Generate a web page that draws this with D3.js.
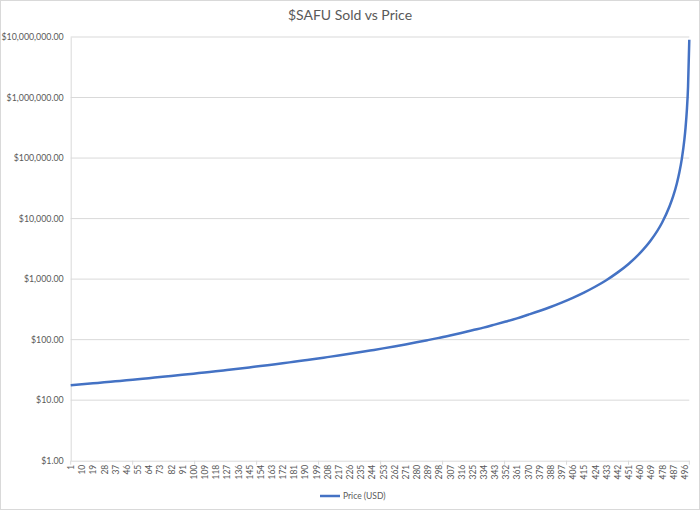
<!DOCTYPE html>
<html>
<head>
<meta charset="utf-8">
<script src="https://cdn.jsdelivr.net/npm/d3@7"></script>
<style>
  body { margin: 0; background: #fff; }
  #chart { width: 700px; height: 510px; }
  text { font-family: Lato, "Open Sans", sans-serif; fill: #595959; }
</style>
</head>
<body>
<div id="chart"></div>
<script>
// Units sold (x categories run 1..500)
var soldCount = 500;
var tickLabels = [1, 10, 19, 28, 37, 46, 55, 64, 73, 82, 91, 100, 109, 118, 127, 136, 145, 154, 163, 172,
  181, 190, 199, 208, 217, 226, 235, 244, 253, 262, 271, 280, 289, 298, 307, 316, 325, 334, 343, 352,
  361, 370, 379, 388, 397, 406, 415, 424, 433, 442, 451, 460, 469, 478, 487, 496];
var yTicks = [1, 10, 100, 1000, 10000, 100000, 1000000, 10000000];

// price at these sold counts
var sold = [1, 10, 19, 28, 37, 46, 55, 64, 73, 82, 91, 100, 109, 118, 127, 136, 145, 154, 163, 172,
  181, 190, 199, 208, 217, 226, 235, 244, 253, 262, 271, 280, 289, 298, 307, 316, 325, 334, 343, 352,
  361, 370, 379, 388, 397, 406, 415, 424, 433, 442, 451, 460, 469, 478, 484, 487, 490, 492, 494, 496,
  497, 498, 499, 500];
var price = [17.6, 18.3, 19.0, 19.7, 20.5, 21.3, 22.2, 23.1, 24.1, 25.1, 26.2, 27.4, 28.7, 30.0, 31.5, 33.1, 34.8, 36.6, 38.6, 40.7,
  43.1, 45.6, 48.3, 51.4, 54.7, 58.3, 62.3, 66.8, 71.7, 77.2, 83.4, 90.3, 98.2, 107, 117, 129, 143, 158, 177, 199,
  225, 258, 297, 346, 409, 491, 599, 748, 960, 1280, 1780, 2660, 4380, 8540, 15800, 23400, 38400, 58100, 98000, 199000,
  321000, 604000, 1520000, 8980000];

var width = 700, height = 510;
var margin = { top: 37, right: 10.7, bottom: 49.3, left: 70.7 };

var svg = d3.select("#chart")
  .append("svg")
  .attr("width", width)
  .attr("height", height);

// chart border
svg.append("rect")
  .attr("x", 0.5).attr("y", 0.5)
  .attr("width", width - 1).attr("height", height - 1)
  .attr("fill", "#fff")
  .attr("stroke", "#d9d9d9");

var categories = d3.range(1, soldCount + 1);

var xScale = d3.scalePoint()
  .domain(categories)
  .range([margin.left, width - margin.right]);

var yScale = d3.scaleLog()
  .domain([1, 10000000])
  .range([height - margin.bottom, margin.top]);

var fmt = d3.format(",.2f");

// gridlines
svg.append("g")
  .selectAll("line")
  .data(yTicks.slice(1))
  .enter()
  .append("line")
  .attr("x1", margin.left)
  .attr("x2", width - margin.right)
  .attr("y1", function(d) { return yScale(d); })
  .attr("y2", function(d) { return yScale(d); })
  .attr("stroke", "#d9d9d9")
  .attr("stroke-width", 1);

// y axis
var yAxis = d3.axisLeft(yScale)
  .tickValues(yTicks)
  .tickSize(0)
  .tickPadding(7)
  .tickFormat(function(d) { return "$" + fmt(d); });

var yg = svg.append("g")
  .attr("transform", "translate(" + margin.left + ",0)")
  .call(yAxis);
yg.select(".domain").attr("stroke", "#d9d9d9");
yg.selectAll("text").style("font-size", "8.8px").style("fill", "#595959");

// x axis
var xAxis = d3.axisBottom(xScale)
  .tickValues(tickLabels)
  .tickSize(0)
  .tickPadding(0);

var xg = svg.append("g")
  .attr("transform", "translate(0," + yScale(1) + ")")
  .call(xAxis);
xg.select(".domain").attr("stroke", "#d9d9d9");
xg.selectAll("text")
  .style("font-size", "8.5px")
  .style("fill", "#595959")
  .attr("text-anchor", "end")
  .attr("dy", "0.35em")
  .attr("y", 0)
  .attr("x", -4)
  .attr("transform", "rotate(-90)");

// x tick marks every 50 categories
var markCats = [1, 51, 101, 151, 201, 251, 301, 351, 401, 451, 500];
xg.selectAll(".mark")
  .data(markCats)
  .enter()
  .append("line")
  .attr("class", "mark")
  .attr("x1", function(d) { return xScale(d); })
  .attr("x2", function(d) { return xScale(d); })
  .attr("y1", 0)
  .attr("y2", 4)
  .attr("stroke", "#d9d9d9");

// price line
var line = d3.line()
  .x(function(d, i) { return xScale(sold[i]); })
  .y(function(d) { return yScale(d); })
  .curve(d3.curveMonotoneX);

svg.append("path")
  .datum(price)
  .attr("d", line)
  .attr("fill", "none")
  .attr("stroke", "#4472C4")
  .attr("stroke-width", 2.5)
  .attr("stroke-linejoin", "round");

// title
svg.append("text")
  .attr("x", width / 2)
  .attr("y", 20)
  .attr("text-anchor", "middle")
  .style("font-size", "14px")
  .text("$SAFU Sold vs Price");

// legend
var legend = svg.append("g").attr("transform", "translate(320,496)");
legend.append("line")
  .attr("x1", 0).attr("x2", 20)
  .attr("stroke", "#4472C4")
  .attr("stroke-width", 2.5);
legend.append("text")
  .attr("x", 23)
  .attr("dy", "0.35em")
  .style("font-size", "8.5px")
  .text("Price (USD)");
</script>
</body>
</html>
